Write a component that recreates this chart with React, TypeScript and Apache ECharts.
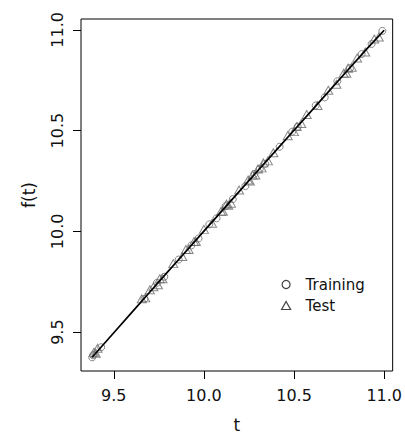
import React, { useEffect, useRef } from "react";
import * as echarts from "echarts";

const xTicks = [9.5, 10.0, 10.5, 11.0];
const yTicks = [9.5, 10.0, 10.5, 11.0];

const trainingT = [9.38, 9.385, 9.43, 9.67, 9.74, 9.78, 9.86, 9.93, 9.97, 10.03, 10.07, 10.12, 10.16, 10.23, 10.28, 10.31, 10.34, 10.42, 10.49, 10.52, 10.62, 10.67, 10.74, 10.81, 10.875, 10.93, 10.99];
const trainingF = [9.375, 9.385, 9.425, 9.665, 9.745, 9.775, 9.86, 9.93, 9.965, 10.035, 10.065, 10.125, 10.16, 10.225, 10.285, 10.31, 10.335, 10.42, 10.495, 10.52, 10.625, 10.665, 10.745, 10.81, 10.88, 10.93, 10.995];

const testT = [9.39, 9.40, 9.41, 9.655, 9.675, 9.70, 9.72, 9.745, 9.755, 9.77, 9.83, 9.88, 9.90, 9.915, 9.945, 9.955, 10.0, 10.045, 10.095, 10.105, 10.125, 10.135, 10.15, 10.195, 10.245, 10.255, 10.27, 10.285, 10.30, 10.32, 10.33, 10.355, 10.385, 10.465, 10.50, 10.515, 10.54, 10.57, 10.63, 10.69, 10.735, 10.775, 10.79, 10.80, 10.82, 10.85, 10.895, 10.945, 10.97];
const testF = [9.40, 9.395, 9.42, 9.665, 9.67, 9.71, 9.725, 9.735, 9.765, 9.765, 9.84, 9.875, 9.91, 9.91, 9.95, 9.95, 10.01, 10.04, 10.10, 10.10, 10.135, 10.13, 10.14, 10.205, 10.255, 10.25, 10.28, 10.28, 10.31, 10.315, 10.34, 10.35, 10.39, 10.475, 10.495, 10.52, 10.535, 10.58, 10.625, 10.70, 10.73, 10.785, 10.785, 10.81, 10.815, 10.86, 10.89, 10.955, 10.965];

const curveT = [9.38, 9.5, 9.6, 9.7, 9.8, 9.9, 10.0, 10.1, 10.2, 10.3, 10.4, 10.5, 10.6, 10.7, 10.8, 10.9, 11.0];
const curveF = [9.375, 9.497, 9.598, 9.699, 9.8, 9.9, 10.001, 10.102, 10.202, 10.302, 10.402, 10.502, 10.602, 10.702, 10.802, 10.902, 10.998];

const FONT = "DejaVu Sans";

export default function App() {
  const ref = useRef<HTMLDivElement>(null);
  useEffect(() => {
    if (!ref.current) return;
    const chart = echarts.init(ref.current, null, { renderer: "svg" });
    const pointStyle = { color: "transparent", borderColor: "#6a6a6a", borderWidth: 1 };
    chart.setOption({
      animation: false,
      backgroundColor: "#fff",
      grid: {
        left: 81,
        top: 19,
        width: 313,
        height: 353,
        show: true,
        borderColor: "#000",
        borderWidth: 1,
        backgroundColor: "transparent",
      },
      legend: {
        orient: "vertical",
        left: 281,
        top: 277,
        itemWidth: 9,
        itemHeight: 8,
        itemGap: 6,
        padding: 0,
        itemStyle: { color: "transparent", borderColor: "#111", borderWidth: 1.2 },
        textStyle: { fontFamily: FONT, fontSize: 15, color: "#111", padding: [0, 0, 0, 10] },
        data: [
          { name: "Training", icon: "circle" },
          { name: "Test", icon: "triangle" },
        ],
      },
      xAxis: {
        type: "value",
        min: 9.318,
        max: 11.047,
        name: "t",
        nameLocation: "middle",
        nameGap: 45,
        nameTextStyle: { fontFamily: FONT, fontSize: 17, color: "#111" },
        axisLine: { show: false },
        splitLine: { show: false },
        axisTick: { show: true, length: 8, lineStyle: { color: "#000" }, customValues: xTicks },
        axisLabel: {
          fontFamily: FONT,
          fontSize: 16,
          color: "#111",
          margin: 16,
          customValues: xTicks,
          formatter: (v: number) => v.toFixed(1),
        },
      },
      yAxis: {
        type: "value",
        min: 9.307,
        max: 11.054,
        name: "f(t)",
        nameLocation: "middle",
        nameGap: 44,
        nameRotate: 90,
        nameTextStyle: { fontFamily: FONT, fontSize: 17, color: "#111" },
        axisLine: { show: false },
        splitLine: { show: false },
        axisTick: { show: true, length: 8, lineStyle: { color: "#000" }, customValues: yTicks },
        axisLabel: {
          fontFamily: FONT,
          fontSize: 16,
          color: "#111",
          rotate: 90,
          margin: 16,
          customValues: yTicks,
          formatter: (v: number) => v.toFixed(1),
        },
      },
      series: [
        {
          name: "Training",
          type: "scatter",
          symbol: "circle",
          symbolSize: 7,
          itemStyle: pointStyle,
          data: trainingT.map((t, i) => [t, trainingF[i]]),
          z: 2,
        },
        {
          name: "Test",
          type: "scatter",
          symbol: "triangle",
          symbolSize: [9, 8],
          itemStyle: pointStyle,
          data: testT.map((t, i) => [t, testF[i]]),
          z: 2,
        },
        {
          name: "f",
          type: "line",
          showSymbol: false,
          symbol: "none",
          lineStyle: { color: "#000", width: 1.7 },
          data: curveT.map((t, i) => [t, curveF[i]]),
          z: 3,
        },
      ],
    });
    return () => chart.dispose();
  }, []);
  return <div ref={ref} style={{ width: 405, height: 438, position: "absolute", left: 0, top: 0 }} />;
}
